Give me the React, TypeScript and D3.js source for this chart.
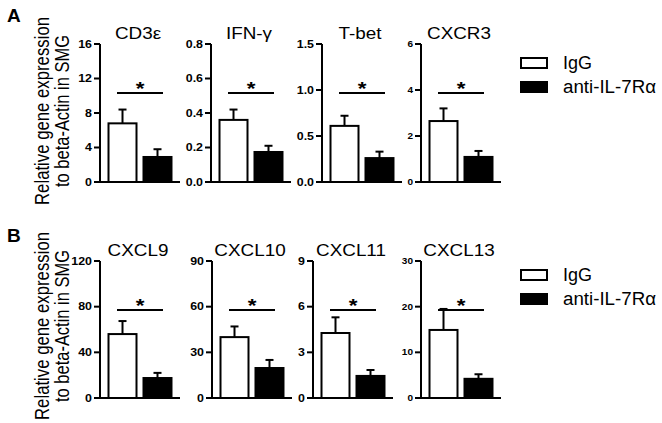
import React from 'react';
import * as d3 from 'd3';

// panel A
const genesA = ['CD3ε', 'IFN-γ', 'T-bet', 'CXCR3'];
const maxA = [16, 0.8, 1.5, 6];
const stepA = [4, 0.2, 0.5, 2];
const iggA = [6.8, 0.36, 0.61, 2.65];
const iggSemA = [1.6, 0.06, 0.11, 0.55];
const antiA = [2.9, 0.174, 0.26, 1.09];
const antiSemA = [0.9, 0.036, 0.07, 0.26];

// panel B
const genesB = ['CXCL9', 'CXCL10', 'CXCL11', 'CXCL13'];
const maxB = [120, 90, 9, 30];
const stepB = [40, 30, 3, 10];
const iggB = [56, 40, 4.27, 14.9];
const iggSemB = [11.4, 7, 1.03, 4.6];
const antiB = [17.5, 19.7, 1.45, 4.2];
const antiSemB = [4.5, 5.3, 0.39, 1.0];

const groups = ['IgG', 'anti-IL-7Rα'];
const yLabel = ['Relative gene expression', 'to beta-Actin in SMG'];

const FONT = 'Arial, "Liberation Sans", sans-serif';
const SX = 1.18; // the figure is a bit wide, text too

// text stretched horizontally around its anchor point
const T = ({ x, y, children, ...rest }) => (
  <text transform={`translate(${x},${y}) scale(${SX},1)`} fontFamily={FONT} {...rest}>{children}</text>
);

const Panel = ({ x0, y0, y1, gene, max, step, vals, sems, small }) => {
  const y = d3.scaleLinear().domain([0, max]).range([y0, y1]);
  const x = d3.scaleBand().domain(groups).range([x0, x0 + 80]).paddingInner(0.2).paddingOuter(0.243);
  const ticks = d3.range(0, max + step / 2, step);
  const fmt = step < 1 ? d3.format('.1f') : d3.format('d');
  const sigY = y1 + 49;
  return (
    <g>
      <T x={x0 + 38} y={y1 - 5} fontSize={16} textAnchor="middle">{gene}</T>
      {groups.map((g, i) => {
        const bx = x(g);
        const cx = bx + x.bandwidth() / 2;
        return (
          <g key={g}>
            <line x1={cx} x2={cx} y1={y(vals[i])} y2={y(vals[i] + sems[i])} stroke="#000" strokeWidth={2} />
            <line x1={cx - 4} x2={cx + 4} y1={y(vals[i] + sems[i])} y2={y(vals[i] + sems[i])} stroke="#000" strokeWidth={2} />
            <rect x={bx} y={y(vals[i])} width={x.bandwidth()} height={y0 - y(vals[i])}
              fill={i === 0 ? '#fff' : '#000'} stroke="#000" strokeWidth={2} />
          </g>
        );
      })}
      <line x1={x0} x2={x0} y1={y0} y2={y1} stroke="#000" strokeWidth={2} />
      <line x1={x0 - 1} x2={x0 + 80} y1={y0} y2={y0} stroke="#000" strokeWidth={2} />
      {ticks.map(t => (
        <g key={t}>
          <line x1={x0 - 6} x2={x0} y1={y(t)} y2={y(t)} stroke="#000" strokeWidth={2} />
          <T x={x0 - 8} y={y(t)} dy="0.36em" textAnchor="end" fontSize={small ? 8.5 : 10.5}
            fontWeight="bold">{fmt(t)}</T>
        </g>
      ))}
      <line x1={x0 + 17} x2={x0 + 63} y1={sigY} y2={sigY} stroke="#000" strokeWidth={2} />
      <T x={x0 + 40} y={sigY + 2} textAnchor="middle" fontSize={19} fontWeight="bold">*</T>
    </g>
  );
};

const Legend = ({ y }) => (
  <g fontSize={18}>
    <rect x={521} y={y} width={26} height={10} fill="#fff" stroke="#000" strokeWidth={2} />
    <text x={563} y={y + 11} fontFamily={FONT}>{groups[0]}</text>
    <rect x={521} y={y + 24} width={26} height={10} fill="#000" stroke="#000" strokeWidth={2} />
    <text x={563} y={y + 35} fontFamily={FONT} textLength={93} lengthAdjust="spacingAndGlyphs">{groups[1]}</text>
  </g>
);

const YLabel = ({ cy }) => (
  <g fontFamily={FONT} fontSize={16.5}>
    {yLabel.map((l, i) => (
      <text key={l} transform={`translate(${49 + i * 20},${cy}) scale(${SX},1) rotate(-90)`}
        textAnchor="middle" textLength={i === 0 ? 188 : 152} lengthAdjust="spacingAndGlyphs">{l}</text>
    ))}
  </g>
);

export default function App() {
  const axA = [100, 211, 322, 421];
  const axB = [100, 212, 313, 421];
  return (
    <svg width={662} height={423} style={{ position: 'absolute', left: 0, top: 0, background: '#fff' }}>
      <text x={7} y={22} fontSize={19} fontWeight="bold" fontFamily={FONT}>A</text>
      <text x={7} y={242} fontSize={19} fontWeight="bold" fontFamily={FONT}>B</text>
      <YLabel cy={111} />
      <YLabel cy={326} />
      {genesA.map((g, i) => (
        <Panel key={g} x0={axA[i]} y0={182} y1={44} gene={g} max={maxA[i]} step={stepA[i]}
          vals={[iggA[i], antiA[i]]} sems={[iggSemA[i], antiSemA[i]]} small={i === 3} />
      ))}
      {genesB.map((g, i) => (
        <Panel key={g} x0={axB[i]} y0={398} y1={261} gene={g} max={maxB[i]} step={stepB[i]}
          vals={[iggB[i], antiB[i]]} sems={[iggSemB[i], antiSemB[i]]} small={i === 3} />
      ))}
      <Legend y={58} />
      <Legend y={270} />
    </svg>
  );
}
